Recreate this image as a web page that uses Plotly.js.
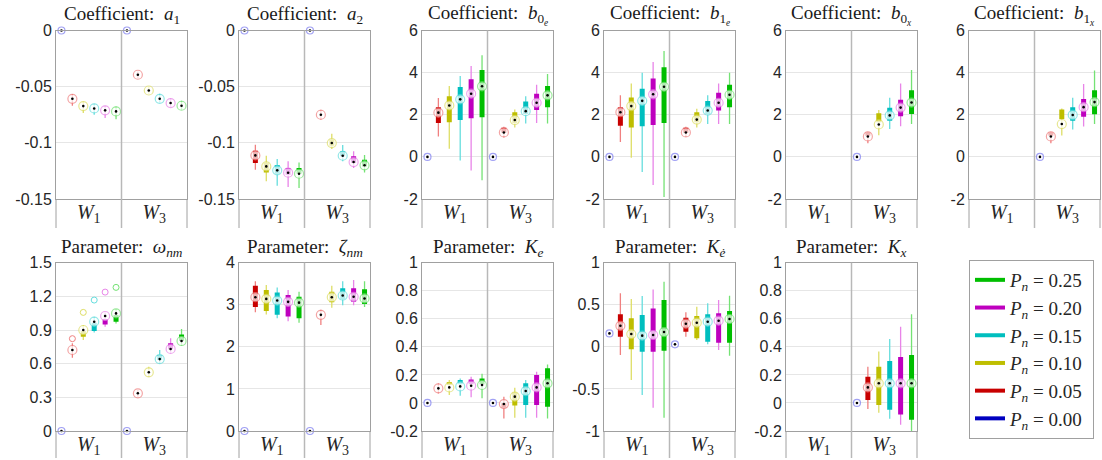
<!DOCTYPE html>
<html>
<head>
<meta charset="utf-8">
<script src="https://cdn.plot.ly/plotly-3.0.1.min.js"></script>
<style>html,body{margin:0;padding:0;background:#fff;}#chart{width:1102px;height:460px;}</style>
</head>
<body>
<div id="chart"></div>
<script>
// ---- categories / labels ----
const groups = ['W1', 'W3'];
const groupTickText = ['<i>W</i><sub>1</sub>', '<i>W</i><sub>3</sub>'];
const pnValues = ['0.00', '0.05', '0.10', '0.15', '0.20', '0.25'];
// position index: W1 (Pn 0..0.25) then W3 (Pn 0..0.25)
const xPos = [0, 1, 2, 3, 4, 5, 6, 7, 8, 9, 10, 11];

// ---- a1 ----
const a1Med = [0, -0.0608, -0.0673, -0.0694, -0.0711, -0.0720, 0, -0.0394, -0.0534, -0.0608, -0.0646, -0.0670];
const a1Q1 = [null, null, null, null, null, null, null, null, null, null, null, null];
const a1Q3 = [null, null, null, null, null, null, null, null, null, null, null, null];
const a1Lo = [null, -0.0670, -0.0735, -0.0750, -0.0780, -0.0789, null, -0.0424, -0.0563, -0.0640, -0.0682, -0.0706];
const a1Hi = [null, -0.0566, -0.0631, -0.0652, -0.0670, -0.0676, null, -0.0365, -0.0498, -0.0563, -0.0605, -0.0626];

// ---- a2 ----
const a2Med = [0, -0.1112, -0.1210, -0.1245, -0.1266, -0.1275, 0, -0.0750, -0.1002, -0.1115, -0.1171, -0.1200];
const a2Q1 = [null, -0.1180, -0.1263, -0.1275, -0.1284, -0.1275, null, null, -0.1026, -0.1120, -0.1180, -0.1210];
const a2Q3 = [null, -0.1070, -0.1180, -0.1198, -0.1224, -0.1224, null, null, -0.0972, -0.1076, -0.1120, -0.1150];
const a2Lo = [null, -0.1240, -0.1343, -0.1381, -0.1393, -0.1402, null, -0.0795, -0.1055, -0.1165, -0.1224, -0.1263];
const a2Hi = [null, -0.1017, -0.1115, -0.1144, -0.1165, -0.1174, null, -0.0706, -0.0919, -0.1020, -0.1076, -0.1109];

// ---- b0e ----
const b0eMed = [0, 2.10, 2.44, 2.73, 3.00, 3.35, 0, 1.16, 1.75, 2.17, 2.57, 2.92];
const b0eQ1 = [null, 1.61, 1.64, 1.75, 1.83, 1.88, null, 1.15, 1.61, 2.04, 2.23, 2.36];
const b0eQ3 = [null, 2.36, 2.88, 3.32, 3.68, 4.12, null, 1.38, 2.12, 2.63, 3.00, 3.36];
const b0eLo = [null, 0.97, 0.39, -0.17, -0.65, -1.11, null, 0.92, 1.40, 1.59, 1.61, 1.59];
const b0eHi = [null, 2.79, 3.36, 3.84, 4.32, 4.82, null, 1.43, 2.25, 2.88, 3.43, 3.94];

// ---- b1e ----
const b1eMed = [0, 2.12, 2.41, 2.66, 2.97, 3.33, 0, 1.16, 1.77, 2.20, 2.57, 2.95];
const b1eQ1 = [null, 1.48, 1.40, 1.45, 1.51, 1.61, null, 1.15, 1.64, 2.04, 2.20, 2.36];
const b1eQ3 = [null, 2.36, 2.82, 3.24, 3.72, 4.26, null, 1.38, 2.12, 2.65, 3.04, 3.43];
const b1eLo = [null, 0.71, -0.04, -0.72, -1.33, -1.91, null, 0.95, 1.40, 1.56, 1.56, 1.56];
const b1eHi = [null, 2.92, 3.48, 4.00, 4.51, 5.03, null, 1.43, 2.28, 2.92, 3.48, 4.00];

// ---- b0x ----
const b0xMed = [null, null, null, null, null, null, 0, 0.97, 1.54, 1.97, 2.34, 2.58];
const b0xQ1 = [null, null, null, null, null, null, null, 1.00, 1.64, 1.72, 1.93, 2.04];
const b0xQ3 = [null, null, null, null, null, null, null, 1.15, 2.07, 2.33, 2.71, 3.16];
const b0xLo = [null, null, null, null, null, null, null, 0.65, 1.03, 1.32, 1.45, 1.56];
const b0xHi = [null, null, null, null, null, null, null, 1.19, 2.23, 2.81, 3.48, 4.12];

// ---- b1x ----
const b1xMed = [null, null, null, null, null, null, 0, 0.97, 1.56, 1.99, 2.36, 2.60];
const b1xQ1 = [null, null, null, null, null, null, null, 1.00, 1.80, 1.72, 1.90, 2.02];
const b1xQ3 = [null, null, null, null, null, null, null, 1.15, 2.25, 2.36, 2.75, 3.16];
const b1xLo = [null, null, null, null, null, null, null, 0.65, 1.02, 1.30, 1.44, 1.56];
const b1xHi = [null, null, null, null, null, null, null, 1.19, 2.30, 2.81, 3.46, 4.10];

// ---- omega_nm ----
const omMed = [0, 0.722, 0.900, 0.974, 1.025, 1.048, 0, 0.336, 0.523, 0.641, 0.731, 0.802];
const omQ1 = [null, null, 0.840, 0.891, 0.950, 0.974, null, null, null, 0.633, 0.728, 0.802];
const omQ3 = [null, null, 0.891, 0.965, 0.998, 1.034, null, null, null, 0.677, 0.781, 0.861];
const omLo = [null, 0.653, 0.811, 0.879, 0.930, 0.959, null, 0.306, 0.484, 0.603, 0.692, 0.760];
const omHi = [null, 0.781, 0.944, 1.019, 1.057, 1.087, null, 0.365, 0.573, 0.722, 0.826, 0.909];
const omOut = [null, 0.823, 1.057, 1.167, 1.238, 1.280, null, null, null, null, null, null];

// ---- zeta_nm ----
const zeMed = [0, 3.18, 3.14, 3.10, 3.07, 3.05, 0, 2.76, 3.18, 3.22, 3.19, 3.15];
const zeQ1 = [null, 2.95, 2.85, 2.76, 2.72, 2.68, null, null, 3.06, 3.14, 3.07, 3.02];
const zeQ3 = [null, 3.45, 3.35, 3.29, 3.23, 3.19, null, null, 3.31, 3.39, 3.39, 3.37];
const zeLo = [null, 2.82, 2.77, 2.68, 2.61, 2.57, null, 2.52, 2.93, 2.99, 2.99, 2.95];
const zeHi = [null, 3.56, 3.47, 3.41, 3.35, 3.31, null, 2.88, 3.45, 3.56, 3.59, 3.56];

// ---- K_e ----
const keMed = [0, 0.104, 0.111, 0.118, 0.123, 0.128, 0, -0.008, 0.045, 0.085, 0.111, 0.140];
const keQ1 = [null, null, 0.128, 0.133, 0.133, 0.133, null, -0.034, -0.019, -0.015, -0.015, -0.027];
const keQ3 = [null, null, 0.150, 0.163, 0.168, 0.175, null, -0.002, 0.073, 0.140, 0.199, 0.247];
const keLo = [null, 0.068, 0.057, 0.052, 0.040, 0.033, null, -0.110, -0.105, -0.105, -0.105, -0.110];
const keHi = [null, 0.140, 0.163, 0.175, 0.187, 0.209, null, 0.045, 0.109, 0.163, 0.223, 0.275];

// ---- K_edot ----
const kdMed = [0.16, 0.250, 0.152, 0.133, 0.141, 0.176, 0.03, 0.275, 0.287, 0.299, 0.311, 0.331];
const kdQ1 = [null, 0.121, -0.030, -0.057, -0.057, -0.045, null, 0.180, 0.101, 0.061, 0.049, 0.049];
const kdQ3 = [null, 0.386, 0.339, 0.378, 0.457, 0.556, null, 0.347, 0.366, 0.386, 0.398, 0.426];
const kdLo = [null, -0.097, -0.394, -0.572, -0.723, -0.842, null, 0.121, 0.081, 0.030, -0.038, -0.105];
const kdHi = [null, 0.636, 0.568, 0.604, 0.683, 0.774, null, 0.410, 0.477, 0.517, 0.556, 0.608];

// ---- K_x ----
const kxMed = [null, null, null, null, null, null, 0, 0.111, 0.140, 0.140, 0.140, 0.140];
const kxQ1 = [null, null, null, null, null, null, null, 0.021, -0.015, -0.048, -0.083, -0.119];
const kxQ3 = [null, null, null, null, null, null, null, 0.187, 0.259, 0.299, 0.327, 0.342];
const kxLo = [null, null, null, null, null, null, null, -0.043, -0.069, -0.112, -0.155, -0.200];
const kxHi = [null, null, null, null, null, null, null, 0.259, 0.366, 0.456, 0.544, 0.632];

// ---- y tick labels ----
const aTicks = [0, -0.05, -0.1, -0.15];
const aTickText = ['0', '-0.05', '-0.1', '-0.15'];
const bTicks = [-2, 0, 2, 4, 6];
const bTickText = ['-2', '0', '2', '4', '6'];
const omTicks = [0, 0.3, 0.6, 0.9, 1.2, 1.5];
const omTickText = ['0', '0.3', '0.6', '0.9', '1.2', '1.5'];
const zeTicks = [0, 1, 2, 3, 4];
const zeTickText = ['0', '1', '2', '3', '4'];
const kTicks = [-0.2, 0, 0.2, 0.4, 0.6, 0.8, 1];
const kTickText = ['-0.2', '0', '0.2', '0.4', '0.6', '0.8', '1'];
const kdTicks = [-1, -0.5, 0, 0.5, 1];
const kdTickText = ['-1', '-0.5', '0', '0.5', '1'];

// ---- styling ----
const boxColors = ['#0000c0', '#c80000', '#bebe00', '#00bebe', '#be00be', '#00be00'];
const lightColors = ['#7a7af0', '#f08080', '#dede66', '#66dede', '#e884e8', '#74e274'];
const W = 1102, H = 460;
const colLeft = [56, 239, 422, 604, 786, 969];
const panelW = 131;
const rows = [{top: 30.5, bottom: 199, strip: 228, title: 15},
              {top: 262.7, bottom: 431, strip: 458, title: 248}];
const serif = 'Liberation Serif';
const sans = 'Liberation Sans';

const panels = [
  {title: 'Coefficient:  <i>a</i><sub>1</sub>', med: a1Med, q1: a1Q1, q3: a1Q3, lo: a1Lo, hi: a1Hi, range: [-0.15, 0], tv: aTicks, tt: aTickText, row: 0, col: 0},
  {title: 'Coefficient:  <i>a</i><sub>2</sub>', med: a2Med, q1: a2Q1, q3: a2Q3, lo: a2Lo, hi: a2Hi, range: [-0.15, 0], tv: aTicks, tt: aTickText, row: 0, col: 1},
  {title: 'Coefficient:  <i>b</i><sub>0<sub><i>e</i></sub></sub>', med: b0eMed, q1: b0eQ1, q3: b0eQ3, lo: b0eLo, hi: b0eHi, range: [-2, 6], tv: bTicks, tt: bTickText, row: 0, col: 2},
  {title: 'Coefficient:  <i>b</i><sub>1<sub><i>e</i></sub></sub>', med: b1eMed, q1: b1eQ1, q3: b1eQ3, lo: b1eLo, hi: b1eHi, range: [-2, 6], tv: bTicks, tt: bTickText, row: 0, col: 3},
  {title: 'Coefficient:  <i>b</i><sub>0<sub><i>x</i></sub></sub>', med: b0xMed, q1: b0xQ1, q3: b0xQ3, lo: b0xLo, hi: b0xHi, range: [-2, 6], tv: bTicks, tt: bTickText, row: 0, col: 4},
  {title: 'Coefficient:  <i>b</i><sub>1<sub><i>x</i></sub></sub>', med: b1xMed, q1: b1xQ1, q3: b1xQ3, lo: b1xLo, hi: b1xHi, range: [-2, 6], tv: bTicks, tt: bTickText, row: 0, col: 5},
  {title: 'Parameter:  <i>ω</i><sub><i>nm</i></sub>', med: omMed, q1: omQ1, q3: omQ3, lo: omLo, hi: omHi, out: omOut, range: [0, 1.5], tv: omTicks, tt: omTickText, row: 1, col: 0},
  {title: 'Parameter:  <i>ζ</i><sub><i>nm</i></sub>', med: zeMed, q1: zeQ1, q3: zeQ3, lo: zeLo, hi: zeHi, range: [0, 4], tv: zeTicks, tt: zeTickText, row: 1, col: 1},
  {title: 'Parameter:  <i>K</i><sub><i>e</i></sub>', med: keMed, q1: keQ1, q3: keQ3, lo: keLo, hi: keHi, range: [-0.2, 1], tv: kTicks, tt: kTickText, row: 1, col: 2},
  {title: 'Parameter:  <i>K</i><sub><i>ė</i></sub>', med: kdMed, q1: kdQ1, q3: kdQ3, lo: kdLo, hi: kdHi, range: [-1, 1], tv: kdTicks, tt: kdTickText, row: 1, col: 3},
  {title: 'Parameter:  <i>K</i><sub><i>x</i></sub>', med: kxMed, q1: kxQ1, q3: kxQ3, lo: kxLo, hi: kxHi, range: [-0.2, 1], tv: kTicks, tt: kTickText, row: 1, col: 4}
];

const traces = [];
const layout = {
  width: W, height: H,
  margin: {l: 0, r: 0, t: 0, b: 0},
  paper_bgcolor: '#ffffff', plot_bgcolor: '#ffffff',
  showlegend: true,
  shapes: [], annotations: [],
  legend: {
    x: 969 / W, y: 1 - 260 / H, xanchor: 'left', yanchor: 'top',
    bordercolor: '#a0a0a0', borderwidth: 1, bgcolor: '#ffffff',
    font: {family: serif, size: 19, color: '#262626'},
    itemwidth: 30, tracegroupgap: 1.5, traceorder: 'normal'
  }
};

function segs(idx, a, b) {
  const xs = [], ys = [];
  idx.forEach(i => {
    if (a[i] !== null && b[i] !== null) { xs.push(xPos[i], xPos[i], null); ys.push(a[i], b[i], null); }
  });
  return {xs, ys};
}

panels.forEach((p, k) => {
  const n = k + 1;
  const xa = 'x' + n, ya = 'y' + n;
  const r = rows[p.row];
  const l = colLeft[p.col];
  layout['xaxis' + n] = {
    domain: [l / W, (l + panelW) / W], anchor: ya,
    range: [-0.5, 11.5], tickvals: [2.5, 8.5], ticktext: groupTickText,
    showgrid: false, zeroline: false, showline: true, mirror: true,
    linecolor: '#a0a0a0', linewidth: 1, ticks: '', fixedrange: true,
    ticklabelstandoff: -5,
    tickfont: {family: serif, size: 20, color: '#262626'}
  };
  layout['yaxis' + n] = {
    domain: [1 - r.bottom / H, 1 - r.top / H], anchor: xa,
    range: p.range, tickvals: p.tv, ticktext: p.tt,
    showgrid: true, gridcolor: '#e6e6e6', gridwidth: 1, zeroline: false,
    showline: true, mirror: true, linecolor: '#a0a0a0', linewidth: 1,
    ticks: '', fixedrange: true,
    tickfont: {family: sans, size: 16, color: '#262626'}
  };
  // group divider and strip borders
  const boundary = (xPos[5] + xPos[6]) / 2;
  layout.shapes.push({type: 'line', xref: xa, yref: 'paper', x0: boundary, x1: boundary,
    y0: 1 - r.strip / H, y1: 1 - r.top / H, line: {color: '#b8b8b8', width: 1.5}});
  [0, 1].forEach(d => layout.shapes.push({type: 'line', xref: xa + ' domain', yref: 'paper', x0: d, x1: d,
    y0: 1 - r.strip / H, y1: 1 - r.bottom / H, line: {color: '#a0a0a0', width: 1}}));
  layout.annotations.push({xref: xa + ' domain', yref: 'paper', x: 0.5, y: 1 - r.title / H,
    xanchor: 'center', yanchor: 'middle', showarrow: false, text: p.title,
    font: {family: serif, size: 19, color: '#1a1a1a'}});

  // whiskers and boxes per colour
  for (let c = 1; c < 6; c++) {
    const idx = [c, c + 6];
    const w = segs(idx, p.lo, p.hi);
    traces.push({type: 'scatter', mode: 'lines', x: w.xs, y: w.ys, xaxis: xa, yaxis: ya,
      line: {color: lightColors[c], width: 1.3}, showlegend: false, hoverinfo: 'skip', cliponaxis: false});
  }
  for (let c = 1; c < 6; c++) {
    const idx = [c, c + 6];
    const b = segs(idx, p.q1, p.q3);
    traces.push({type: 'scatter', mode: 'lines', x: b.xs, y: b.ys, xaxis: xa, yaxis: ya,
      line: {color: boxColors[c], width: 5}, showlegend: false, hoverinfo: 'skip', cliponaxis: false});
  }
  if (p.out) {
    traces.push({type: 'scatter', mode: 'markers', x: xPos, y: p.out, xaxis: xa, yaxis: ya,
      marker: {symbol: 'circle-open', size: 6, color: xPos.map(i => lightColors[i % 6]), line: {width: 1}},
      showlegend: false, hoverinfo: 'skip', cliponaxis: false});
  }
  // median circles
  traces.push({type: 'scatter', mode: 'markers', x: xPos, y: p.med, xaxis: xa, yaxis: ya,
    marker: {symbol: 'circle', size: xPos.map(i => i % 6 === 0 ? 7 : 9), color: '#ffffff',
      line: {width: 1.2, color: xPos.map(i => lightColors[i % 6])}},
    showlegend: false, hoverinfo: 'skip', cliponaxis: false});
  traces.push({type: 'scatter', mode: 'markers', x: xPos, y: p.med, xaxis: xa, yaxis: ya,
    marker: {symbol: 'circle', size: 2.6, color: '#000000'},
    showlegend: false, hoverinfo: 'skip', cliponaxis: false});
});

// legend entries (top: Pn = 0.25, bottom: Pn = 0.00)
for (let c = 5; c >= 0; c--) {
  traces.push({type: 'scatter', mode: 'lines', x: [null], y: [null], xaxis: 'x1', yaxis: 'y1',
    name: '<i>P</i><sub><i>n</i></sub> = ' + pnValues[c] + '\u00a0', legendgroup: 'g' + c,
    line: {color: boxColors[c], width: 4}, hoverinfo: 'skip'});
}

Plotly.newPlot('chart', traces, layout, {displayModeBar: false, staticPlot: true});
</script>
</body>
</html>
